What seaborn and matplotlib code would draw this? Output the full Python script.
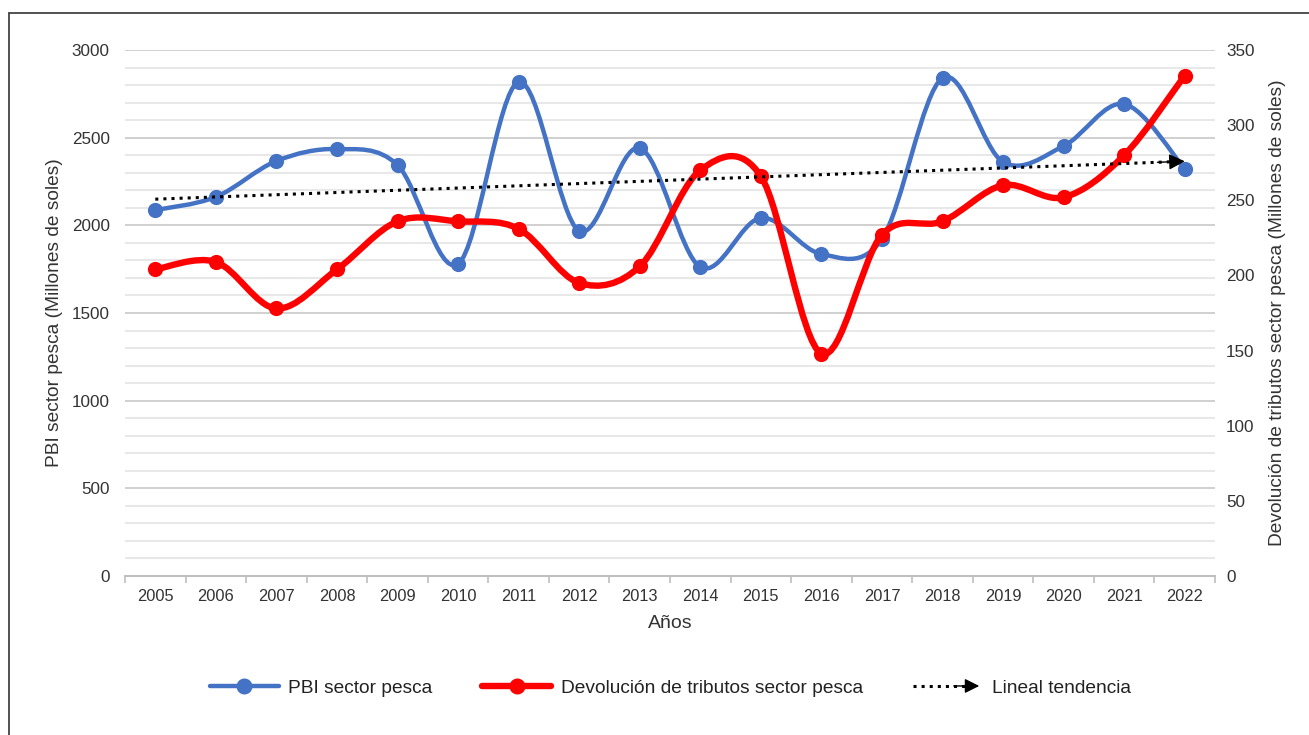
import numpy as np
import matplotlib
matplotlib.use('Agg')
import matplotlib.pyplot as plt
from matplotlib.path import Path
from matplotlib.patches import PathPatch, FancyArrowPatch
from matplotlib.lines import Line2D
from matplotlib.legend_handler import HandlerBase
import seaborn as sns

# Datos
years = ['2005', '2006', '2007', '2008', '2009', '2010', '2011', '2012', '2013',
         '2014', '2015', '2016', '2017', '2018', '2019', '2020', '2021', '2022']
pbi = [2087, 2162, 2367, 2435, 2344, 1780, 2817, 1968, 2441,
       1762, 2042, 1836, 1922, 2840, 2361, 2452, 2692, 2321]
devolucion = [204, 209, 178, 204, 236, 236, 231, 195, 206,
              270, 266, 148, 227, 236, 260, 252, 280, 333]

blue = '#4472C4'
red = '#FF0000'
text_color = '#333333'

sns.set_theme(style='white')
plt.rcParams['font.family'] = ['Liberation Sans', 'DejaVu Sans']


def smooth_path(xs, ys):
    # curva suavizada tipo Excel (Bezier / Catmull-Rom)
    pts = np.column_stack([xs, ys]).astype(float)
    padded = np.vstack([pts[0], pts, pts[-1]])
    verts = [pts[0]]
    codes = [Path.MOVETO]
    for i in range(len(pts) - 1):
        p0, p1, p2, p3 = padded[i], padded[i + 1], padded[i + 2], padded[i + 3]
        verts += [p1 + (p2 - p0) / 6, p2 - (p3 - p1) / 6, p2]
        codes += [Path.CURVE4] * 3
    return Path(verts, codes)


class ArrowHandler(HandlerBase):
    def create_artists(self, legend, orig_handle, xdescent, ydescent,
                       width, height, fontsize, trans):
        y = (height - ydescent) / 2
        x0 = -xdescent
        line = Line2D([x0, x0 + width * 0.75], [y, y], color='black', ls=':',
                      lw=2.2, transform=trans)
        arrow = FancyArrowPatch((x0 + width * 0.55, y), (x0 + width, y),
                                arrowstyle='-|>', mutation_scale=22,
                                color='black', lw=1, transform=trans)
        return [line, arrow]


fig = plt.figure(figsize=(13.09, 7.35), dpi=100)
ax = fig.add_axes([0.0955, 0.2163, 0.8327, 0.7157])
ax2 = ax.twinx()

x = np.arange(len(years))

# PBI (eje izquierdo)
ax.add_patch(PathPatch(smooth_path(x, pbi), fill=False, edgecolor=blue,
                       lw=3.2, capstyle='round', joinstyle='round', zorder=2))
sns.scatterplot(x=x, y=pbi, ax=ax, color=blue, s=120, linewidth=0, zorder=3,
                legend=False)

# Devolucion de tributos (eje derecho)
ax2.add_patch(PathPatch(smooth_path(x, devolucion), fill=False, edgecolor=red,
                        lw=4.6, capstyle='round', joinstyle='round', zorder=2))
sns.scatterplot(x=x, y=devolucion, ax=ax2, color=red, s=120, linewidth=0,
                zorder=3, legend=False)

# Tendencia lineal del PBI
coef = np.polyfit(x, pbi, 1)
trend = np.polyval(coef, x)
ax2.plot([x[0], x[-1] - 0.25], [trend[0], np.polyval(coef, x[-1] - 0.25)],
         color='black', ls=':', lw=2.2, transform=ax.transData, zorder=5)
ax2.annotate('', xy=(x[-1], trend[-1]), xycoords=ax.transData,
             xytext=(x[-1] - 0.45, np.polyval(coef, x[-1] - 0.45)),
             textcoords=ax.transData,
             arrowprops=dict(arrowstyle='-|>', mutation_scale=24,
                             color='black', lw=1, shrinkA=0, shrinkB=0),
             zorder=5)

# Ejes
ax.set_xlim(-0.5, len(years) - 0.5)
ax.set_ylim(0, 3000)
ax2.set_ylim(0, 350)
ax.set_yticks(np.arange(0, 3001, 500))
ax.set_yticks(np.arange(0, 3001, 100), minor=True)
ax2.set_yticks(np.arange(0, 351, 50))
ax.set_xticks(x)
ax.set_xticklabels(years)
ax.set_xticks(np.arange(-0.5, len(years), 1), minor=True)

ax.yaxis.grid(True, which='major', color='#d0d0d0', lw=1.4)
ax.yaxis.grid(True, which='minor', color='#e6e6e6', lw=1.3)
ax.xaxis.grid(False)
ax.set_axisbelow(True)
ax2.grid(False)

for a in (ax, ax2):
    for side in ('top', 'left', 'right'):
        a.spines[side].set_visible(False)
    a.spines['bottom'].set_color('#bfbfbf')
    a.spines['bottom'].set_linewidth(1.3)

ax.tick_params(axis='y', which='both', length=0, pad=11, labelsize=12.3,
               labelcolor=text_color)
ax2.tick_params(axis='y', which='both', length=0, pad=8, labelsize=12.3,
                labelcolor=text_color)
ax.tick_params(axis='x', which='major', length=0, pad=9, labelsize=11.8,
               labelcolor=text_color)
ax.tick_params(axis='x', which='minor', length=5, width=1.2, color='#bfbfbf',
               bottom=True)

ax.set_xlabel('Años', fontsize=14, color=text_color, labelpad=8)
ax.set_ylabel('PBI sector pesca (Millones de soles)', fontsize=13.8,
              color=text_color, labelpad=6)
ax2.set_ylabel('Devolución de tributos sector pesca (Millones de soles)',
               fontsize=13.8, color=text_color, labelpad=10)

# Leyenda
handles = [
    Line2D([], [], color=blue, lw=3.2, marker='o', ms=10.5),
    Line2D([], [], color=red, lw=4.6, marker='o', ms=10.5),
    'trend',
]
labels = ['PBI sector pesca', 'Devolución de tributos sector pesca',
          'Lineal tendencia']
fig.legend(handles, labels, loc='center', bbox_to_anchor=(0.512, 0.064),
           ncol=3, frameon=False, fontsize=13.8, handlelength=3.6,
           columnspacing=2.6, handletextpad=0.5, labelcolor='#222222',
           handler_map={str: ArrowHandler()})

# Marco superior e izquierdo
fig.add_artist(Line2D([9 / 1309, 1], [1 - 13 / 735, 1 - 13 / 735],
                      color='#444444', lw=1.3, transform=fig.transFigure))
fig.add_artist(Line2D([9 / 1309, 9 / 1309], [0, 1 - 13 / 735],
                      color='#444444', lw=1.3, transform=fig.transFigure))

fig.savefig('out.png', dpi=100, facecolor='white')
